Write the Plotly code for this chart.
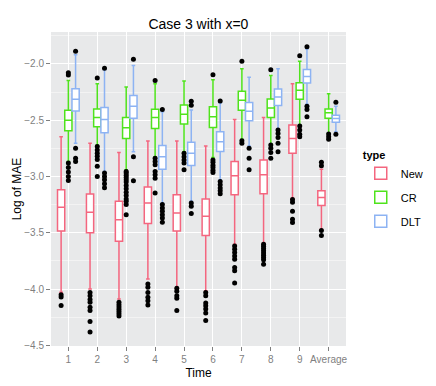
import plotly.graph_objects as go

# Categorias del eje x
times = ["1", "2", "3", "4", "5", "6", "7", "8", "9", "Average"]

# New
new_upper = [-2.647, -2.706, -2.788, -2.685, -2.685, -2.73, -2.494, -2.476, -2.176, -2.935]
new_q3 = [-3.118, -3.156, -3.22, -3.094, -3.162, -3.2, -2.868, -2.853, -2.544, -3.126]
new_median = [-3.274, -3.318, -3.385, -3.235, -3.324, -3.353, -2.994, -2.985, -2.662, -3.188]
new_q1 = [-3.485, -3.5, -3.576, -3.418, -3.485, -3.524, -3.162, -3.153, -2.794, -3.259]
new_lower = [-4.029, -4.0, -4.088, -3.912, -3.985, -4.015, -3.603, -3.588, -3.191, -3.47]
new_outliers = [
    [-4.05, -4.07, -4.147],
    [-4.03, -4.06, -4.094, -4.118, -4.162, -4.19, -4.288, -4.382],
    [-4.118, -4.14, -4.16, -4.18, -4.2, -4.22, -4.24],
    [-3.956, -3.985, -4.03, -4.074, -4.103, -4.141],
    [-3.994, -4.02, -4.06, -4.082, -4.19],
    [-4.03, -4.06, -4.124, -4.148, -4.177, -4.212, -4.28],
    [-3.618, -3.647, -3.676, -3.706, -3.735, -3.809, -3.838, -3.947],
    [-3.603, -3.62, -3.64, -3.66, -3.68, -3.7, -3.72, -3.74, -3.78],
    [-3.204, -3.23, -3.31, -3.38, -3.41],
    [-2.874, -2.906, -3.479, -3.524],
]

# CR
cr_upper = [-2.147, -2.176, -2.206, -2.176, -2.153, -2.141, -2.044, -2.103, -1.976, -2.265]
cr_q3 = [-2.412, -2.4, -2.476, -2.403, -2.365, -2.382, -2.244, -2.312, -2.168, -2.4]
cr_median = [-2.5, -2.476, -2.568, -2.476, -2.447, -2.47, -2.324, -2.391, -2.235, -2.435]
cr_q1 = [-2.594, -2.559, -2.662, -2.574, -2.535, -2.565, -2.412, -2.476, -2.315, -2.482]
cr_lower = [-2.868, -2.72, -2.941, -2.824, -2.78, -2.832, -2.67, -2.715, -2.544, -2.618]
cr_outliers = [
    [-2.08, -2.10, -2.88, -2.92, -2.96, -3.0, -3.035],
    [-2.126, -2.735, -2.765, -2.794, -2.82, -2.85, -2.91, -3.0],
    [-2.956, -2.97, -2.99, -3.01, -3.03, -3.05, -3.08, -3.11, -3.14, -3.17, -3.2, -3.22, -3.25, -3.34],
    [-2.147, -2.838, -2.868, -2.897, -2.956, -2.985, -3.015, -3.147],
    [-2.794, -2.824, -2.853, -2.88, -2.94],
    [-2.097, -2.853, -2.875, -2.9, -2.92, -2.945, -2.965],
    [-1.976, -2.682, -2.706],
    [-2.053, -2.72, -2.75, -2.788, -2.838],
    [-1.929, -2.553, -2.588, -2.626, -2.647],
    [-2.624, -2.647, -2.67],
]

# DLT
dlt_upper = [-1.918, -2.053, -2.015, -2.426, -2.41, -2.347, -2.118, -2.044, -1.868, -2.376]
dlt_q3 = [-2.22, -2.388, -2.282, -2.726, -2.697, -2.603, -2.344, -2.224, -2.05, -2.456]
dlt_median = [-2.315, -2.494, -2.376, -2.824, -2.794, -2.691, -2.42, -2.294, -2.112, -2.485]
dlt_q1 = [-2.418, -2.612, -2.482, -2.935, -2.903, -2.779, -2.506, -2.37, -2.171, -2.518]
dlt_lower = [-2.706, -2.956, -2.78, -3.235, -3.22, -3.03, -2.73, -2.582, -2.359, -2.603]
dlt_outliers = [
    [-1.888, -2.75, -2.838, -2.868],
    [-2.038, -2.97, -3.0, -3.03, -3.065, -3.1],
    [-1.959, -2.824, -3.038],
    [-2.406, -3.25, -3.28, -3.31, -3.34, -3.37, -3.406],
    [-2.332, -2.368, -3.235, -3.265, -3.33],
    [-2.33, -3.044, -3.074, -3.103, -3.126, -3.153],
    [-2.75, -2.838, -2.941],
    [-2.588, -2.618, -2.653, -2.706, -2.78],
    [-1.847, -2.376, -2.406, -2.47],
    [-2.341, -2.626],
]

series = [
    ("New", "#F4667F", new_lower, new_q1, new_median, new_q3, new_upper, new_outliers),
    ("CR", "#4FE31C", cr_lower, cr_q1, cr_median, cr_q3, cr_upper, cr_outliers),
    ("DLT", "#8DB3F3", dlt_lower, dlt_q1, dlt_median, dlt_q3, dlt_upper, dlt_outliers),
]

fig = go.Figure()

for name, color, lo, q1, med, q3, up, outs in series:
    fig.add_trace(
        go.Box(
            name=name,
            legendgroup=name,
            x=times,
            y=outs,
            lowerfence=lo,
            q1=q1,
            median=med,
            q3=q3,
            upperfence=up,
            boxpoints="all",
            jitter=0,
            pointpos=0,
            fillcolor="white",
            line=dict(color=color, width=1.5),
            marker=dict(color="black", size=5),
        )
    )

fig.update_layout(
    width=436,
    height=386,
    boxmode="group",
    boxgap=0.25,
    boxgroupgap=0,
    paper_bgcolor="white",
    plot_bgcolor="#E8E9EA",
    margin=dict(l=51, r=90, t=32, b=40, autoexpand=False),
    font=dict(family="Liberation Sans, Arial", color="black"),
    title=dict(
        text="Case 3 with x=0",
        x=0.455,
        xanchor="center",
        y=0.938,
        yanchor="middle",
        font=dict(size=14, color="black"),
    ),
    legend=dict(
        title=dict(text="<b>type</b>", font=dict(size=11)),
        x=1.05,
        xanchor="left",
        y=0.495,
        yanchor="middle",
        font=dict(size=11),
        bgcolor="rgba(0,0,0,0)",
        tracegroupgap=5,
    ),
    xaxis=dict(
        type="category",
        range=[-0.6, 9.6],
        automargin=False,
        title=dict(text="Time", font=dict(size=12), standoff=4),
        showgrid=True,
        gridcolor="white",
        gridwidth=1.2,
        zeroline=False,
        ticks="outside",
        ticklen=4,
        tickcolor="#7F7F7F",
        tickfont=dict(size=10, color="#7F7F7F"),
        showline=False,
    ),
    yaxis=dict(
        range=[-4.506, -1.717],
        automargin=False,
        dtick=0.5,
        tick0=-4.5,
        tickformat=".1f",
        title=dict(text="Log of MAE", font=dict(size=12), standoff=0),
        showgrid=True,
        gridcolor="white",
        gridwidth=1.2,
        zeroline=False,
        ticks="outside",
        ticklen=4,
        tickcolor="#7F7F7F",
        tickfont=dict(size=10, color="#7F7F7F"),
        minor=dict(dtick=0.25, showgrid=True, gridcolor="#F3F3F3", gridwidth=0.8),
    ),
)

# quitar el margen por defecto del body para que la figura quede en (0, 0)
fig.write_html(
    "out.html",
    config={"displayModeBar": False},
    post_script="document.body.style.margin='0';",
)
